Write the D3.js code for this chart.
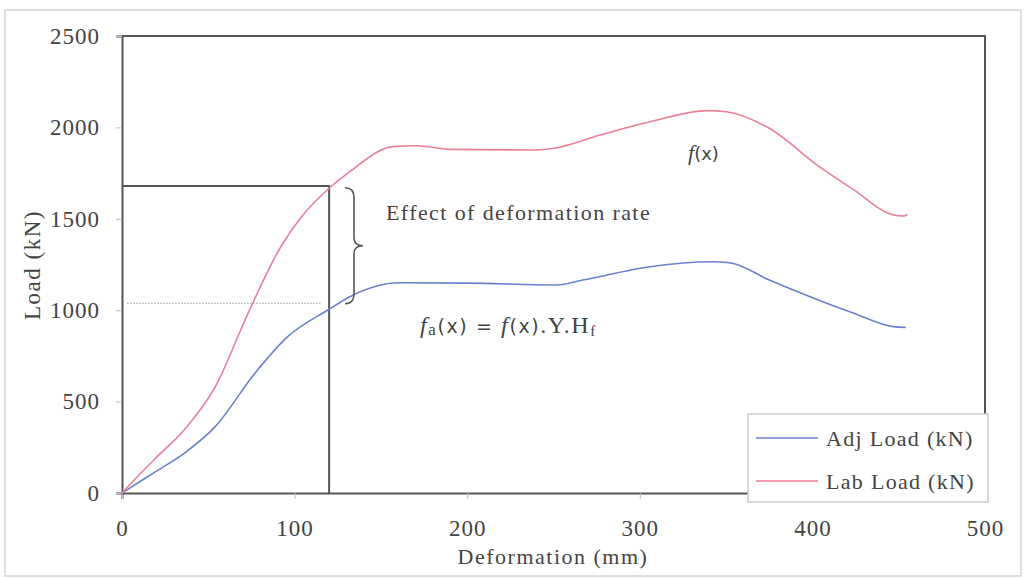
<!DOCTYPE html>
<html>
<head>
  <meta charset="utf-8">
  <title>Load vs Deformation</title>
  <style>
    body { margin: 0; background: #fff; }
    text { font-family: "Liberation Serif", "DejaVu Serif", serif; fill: #444; }
  </style>
</head>
<body>
  <div id="graph"></div>
  <script src="https://cdn.jsdelivr.net/npm/d3@7"></script>
  <script>
    // values
    const deformation = [0, 10, 20, 36, 54, 73, 92, 104, 120, 132, 157, 171, 190, 238, 252, 277, 306, 339, 350, 375, 404, 424, 447, 453, 455];
    const labLoad =     [0, 100, 195, 345, 581, 983, 1347, 1511, 1667, 1758, 1895, 1900, 1880, 1876, 1889, 1958, 2031, 2092, 2086, 1995, 1785, 1658, 1521, 1515, 1526];
    const adjDeform =   [0, 10, 20, 36, 54, 77, 96, 120, 132, 161, 200, 252, 267, 306, 341, 352, 375, 424, 447, 454];
    const adjLoad =     [0, 60, 120, 217, 363, 655, 855, 1005, 1074, 1150, 1148, 1138, 1165, 1238, 1265, 1260, 1165, 983, 910, 906];
    const xTicks = [0, 100, 200, 300, 400, 500];
    const yTicks = [0, 500, 1000, 1500, 2000, 2500];
    const seriesNames = ["Adj Load (kN)", "Lab Load (kN)"];
    const seriesColors = ["#6b80cc", "#ea7f95"];

    const W = 1028, H = 578;
    const svg = d3.select("#graph").append("svg")
      .attr("width", W).attr("height", H);

    // scanned page frame
    svg.append("rect")
      .attr("x", 5).attr("y", 10).attr("width", 1016).attr("height", 566)
      .attr("fill", "none").attr("stroke", "#d4d4d4").attr("stroke-width", 1.5);

    const x = d3.scaleLinear().domain([0, 500]).range([122, 985]);
    const y = d3.scaleLinear().domain([0, 2500]).range([493, 36]);

    // plot box: top and right border
    svg.append("path")
      .attr("d", `M${x(0)},${y(2500)}H${x(500)}V${y(0)}`)
      .attr("fill", "none").attr("stroke", "#555").attr("stroke-width", 2);

    // axes
    const yAxis = svg.append("g")
      .attr("transform", `translate(${x(0)},0)`)
      .call(d3.axisLeft(y).tickValues(yTicks).tickFormat(d3.format("d")).tickSize(6).tickPadding(16));
    const xAxis = svg.append("g")
      .attr("transform", `translate(0,${y(0)})`)
      .call(d3.axisBottom(x).tickValues(xTicks).tickFormat(d3.format("d")).tickSize(6).tickPadding(21));
    [xAxis, yAxis].forEach(a => {
      a.select(".domain").attr("stroke", "#555").attr("stroke-width", 2);
      a.selectAll(".tick line").attr("stroke", "#bbb");
      a.selectAll(".tick text")
        .attr("font-size", 23).attr("letter-spacing", 1).attr("fill", "#444");
    });

    // axis titles
    svg.append("text")
      .attr("x", 553).attr("y", 564).attr("text-anchor", "middle")
      .attr("font-size", 22).attr("letter-spacing", 1.5).text("Deformation (mm)");
    svg.append("text")
      .attr("transform", "translate(40,265) rotate(-90)").attr("text-anchor", "middle")
      .attr("font-size", 23).attr("letter-spacing", 1.5).text("Load (kN)");

    // reference lines at x = 120
    const xRef = 120, labRef = 1680, adjRef = 1038;
    svg.append("path")
      .attr("d", `M${x(0)},${y(labRef)}H${x(xRef)}V${y(0)}`)
      .attr("fill", "none").attr("stroke", "#555").attr("stroke-width", 2);
    svg.append("line")
      .attr("x1", x(3)).attr("x2", x(115))
      .attr("y1", y(adjRef)).attr("y2", y(adjRef))
      .attr("stroke", "#999").attr("stroke-width", 1).attr("stroke-dasharray", "1.5,1.5");

    // lines
    const line = d3.line()
      .x(d => x(d[0])).y(d => y(d[1]))
      .curve(d3.curveMonotoneX);
    svg.append("path")
      .datum(d3.zip(adjDeform, adjLoad))
      .attr("d", line).attr("fill", "none")
      .attr("stroke", seriesColors[0]).attr("stroke-width", 1.6);
    svg.append("path")
      .datum(d3.zip(deformation, labLoad))
      .attr("d", line).attr("fill", "none")
      .attr("stroke", seriesColors[1]).attr("stroke-width", 1.6);

    // brace between the two curves
    const bx = 345, bTop = y(1670), bBot = y(1035), bMid = (bTop + bBot) / 2;
    svg.append("path")
      .attr("d", `M${bx},${bTop} Q${bx + 9},${bTop} ${bx + 9},${bTop + 10} V${bMid - 8} Q${bx + 9},${bMid} ${bx + 18},${bMid}` +
        ` Q${bx + 9},${bMid} ${bx + 9},${bMid + 8} V${bBot - 10} Q${bx + 9},${bBot} ${bx},${bBot}`)
      .attr("fill", "none").attr("stroke", "#555").attr("stroke-width", 1.6);

    // annotations
    svg.append("text").attr("x", 386).attr("y", 220)
      .attr("font-size", 22).attr("letter-spacing", 1.4).text("Effect of deformation rate");
    const fx = svg.append("text").attr("x", 688).attr("y", 160).attr("font-size", 22);
    fx.append("tspan").attr("font-style", "italic").text("f");
    fx.append("tspan").style("font-family", "'DejaVu Sans', sans-serif").attr("font-size", 18).text("(x)");
    const fa = svg.append("text").attr("x", 420).attr("y", 333).attr("font-size", 24).attr("letter-spacing", 1.6);
    fa.append("tspan").attr("font-style", "italic").text("f");
    fa.append("tspan").attr("font-size", 17).attr("dy", 2).text("a");
    fa.append("tspan").attr("dy", -2).style("font-family", "'DejaVu Sans', sans-serif").attr("font-size", 19).text("(x) = ");
    fa.append("tspan").attr("font-style", "italic").text("f");
    fa.append("tspan").style("font-family", "'DejaVu Sans', sans-serif").attr("font-size", 19).text("(x)");
    fa.append("tspan").text(".Y.H");
    fa.append("tspan").attr("font-size", 15).attr("dy", 3).text("f");

    // legend
    const lg = svg.append("g").attr("transform", "translate(748,414)");
    lg.append("rect").attr("width", 240).attr("height", 88)
      .attr("fill", "#fff").attr("stroke", "#ccc").attr("stroke-width", 1.5);
    seriesNames.forEach((name, i) => {
      const yy = 24 + i * 43;
      lg.append("line").attr("x1", 8).attr("x2", 70).attr("y1", yy).attr("y2", yy)
        .attr("stroke", seriesColors[i]).attr("stroke-width", 1.6);
      lg.append("text").attr("x", 78).attr("y", yy + 8).attr("font-size", 22)
        .attr("letter-spacing", 1.3).text(name);
    });
  </script>
</body>
</html>
